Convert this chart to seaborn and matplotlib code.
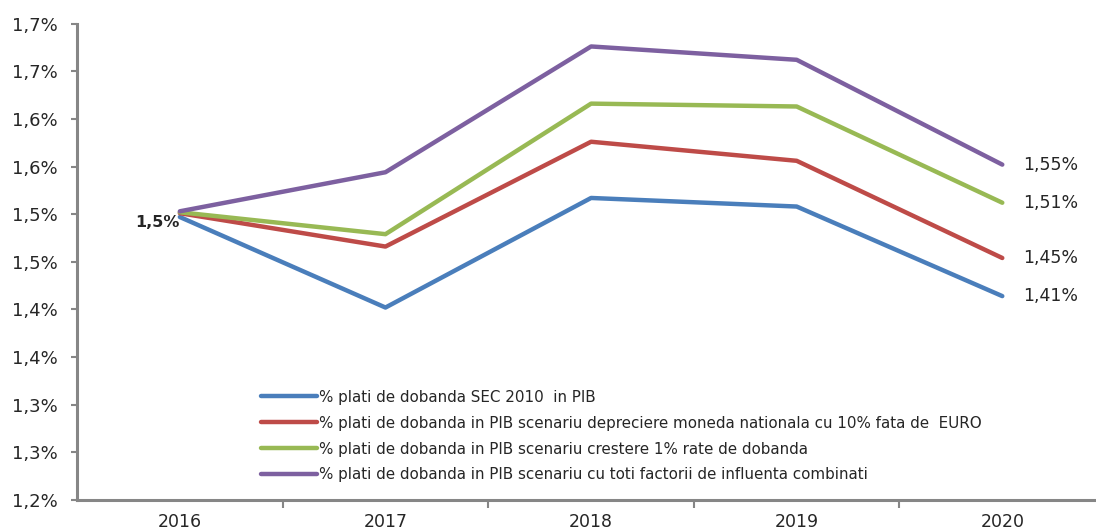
import numpy as np
import pandas as pd
import matplotlib
matplotlib.use('Agg')
import matplotlib.pyplot as plt
import seaborn as sns

# ani si serii (% plati de dobanda in PIB)
years = ['2016', '2017', '2018', '2019', '2020']
sec2010 = [1.497, 1.402, 1.517, 1.508, 1.414]
depreciere = [1.501, 1.466, 1.576, 1.556, 1.454]
crestere = [1.502, 1.479, 1.616, 1.613, 1.512]
combinati = [1.503, 1.544, 1.676, 1.662, 1.552]

series_names = [
    '% plati de dobanda SEC 2010  in PIB',
    '% plati de dobanda in PIB scenariu depreciere moneda nationala cu 10% fata de  EURO',
    '% plati de dobanda in PIB scenariu crestere 1% rate de dobanda',
    '% plati de dobanda in PIB scenariu cu toti factorii de influenta combinati',
]
end_labels = ['1,41%', '1,45%', '1,51%', '1,55%']
start_label = '1,5%'
y_ticks = [1.20, 1.25, 1.30, 1.35, 1.40, 1.45, 1.50, 1.55, 1.60, 1.65, 1.70]
y_ticklabels = ['1,2%', '1,3%', '1,3%', '1,4%', '1,4%', '1,5%', '1,5%', '1,6%', '1,6%', '1,7%', '1,7%']

colors = ['#4A7EBB', '#BE4B48', '#98B954', '#7D60A0']

rows = []
for name, vals in zip(series_names, [sec2010, depreciere, crestere, combinati]):
    for i, v in enumerate(vals):
        rows.append({'an': i, 'valoare': v, 'serie': name})
df = pd.DataFrame(rows)

sns.set_style('white')
plt.rcParams['font.family'] = ['DejaVu Sans']

fig = plt.figure(figsize=(10.96, 5.29), dpi=100)
ax = fig.add_axes([0.0703, 0.0548, 0.938, 0.9006])

sns.lineplot(data=df, x='an', y='valoare', hue='serie', palette=colors,
             hue_order=series_names, linewidth=3.2, ax=ax, legend=True)

ax.set_xlim(-0.5, 4.5)
ax.set_ylim(1.20, 1.70)
ax.set_yticks(y_ticks)
ax.set_yticklabels(y_ticklabels, fontsize=13)
ax.set_xticks(range(len(years)))
ax.set_xticklabels(years, fontsize=12.5)
ax.set_xticks(np.arange(0.5, len(years) - 0.5, 1), minor=True)
ax.set_xlabel('')
ax.set_ylabel('')

for s in ['top', 'right']:
    ax.spines[s].set_visible(False)
for s in ['left', 'bottom']:
    ax.spines[s].set_color('#868686')
    ax.spines[s].set_linewidth(2.2)
ax.tick_params(axis='y', which='major', direction='out', length=4, width=1.5,
               color='#868686', left=True, pad=10)
ax.tick_params(axis='x', which='major', length=0, pad=9)
ax.tick_params(axis='x', which='minor', direction='out', length=6, width=1.5,
               color='#868686', bottom=True)

# etichete valori
last = [sec2010[-1], depreciere[-1], crestere[-1], combinati[-1]]
for v, lab in zip(last, end_labels):
    ax.annotate(lab, (4, v), xytext=(15, 0), textcoords='offset points',
                va='center', ha='left', fontsize=12.5)
ax.annotate(start_label, (0, sec2010[0]), xytext=(0, -4), textcoords='offset points',
            va='center', ha='right', fontsize=11.5, fontweight='bold')

ax.legend(loc='upper left', bbox_to_anchor=(0.2254, 0.289), bbox_transform=fig.transFigure,
          frameon=False, handlelength=3.7, handletextpad=0.15,
          labelspacing=0.72, prop={'family': 'DejaVu Sans', 'size': 10.9})

fig.savefig('out.png', dpi=100)
